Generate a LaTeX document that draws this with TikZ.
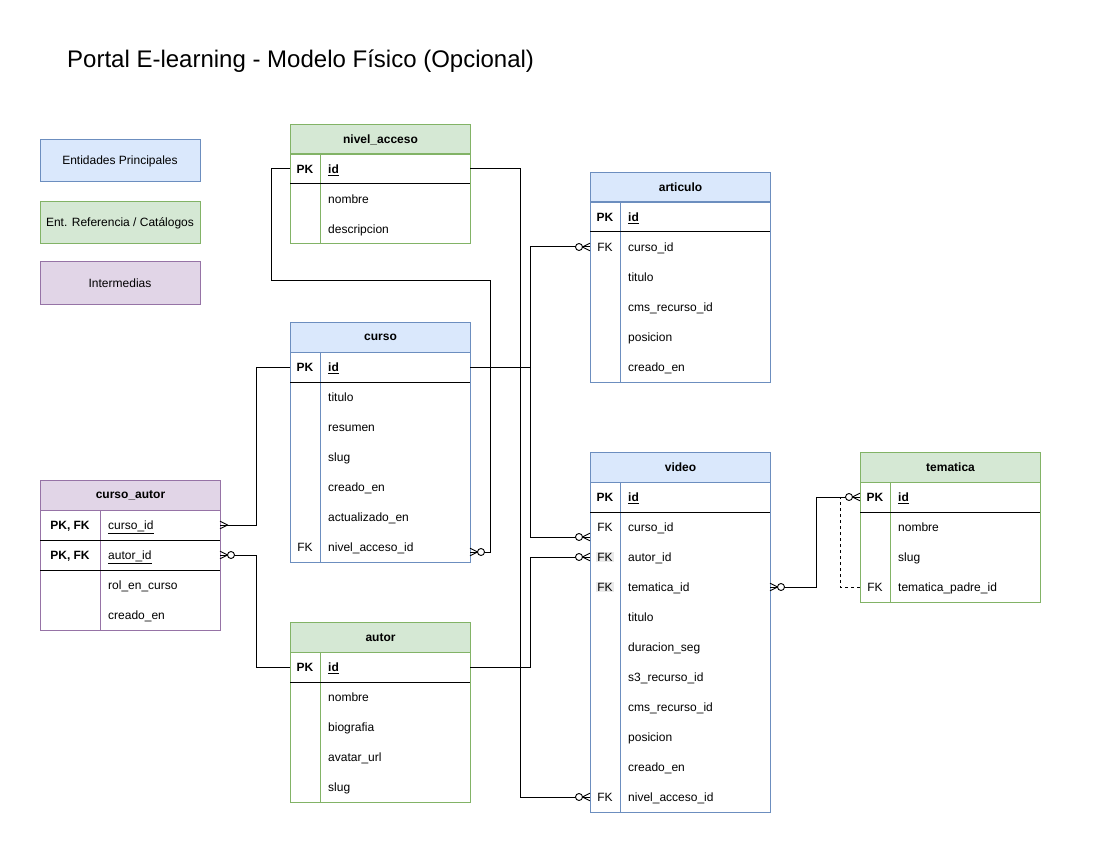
\documentclass[tikz,border=0pt]{standalone}
\usepackage{fontspec}
\setmainfont{Liberation Sans}
\definecolor{bfill}{HTML}{DAE8FC}
\definecolor{bdraw}{HTML}{6C8EBF}
\definecolor{gfill}{HTML}{D5E8D4}
\definecolor{gdraw}{HTML}{82B366}
\definecolor{pfill}{HTML}{E1D5E7}
\definecolor{pdraw}{HTML}{9673A6}
\definecolor{hlgray}{HTML}{EBEBEB}
\setlength\fboxsep{1pt}
\newcommand\fs{\fontsize{12}{14}\selectfont}
\newcommand\hlk[1]{\colorbox{hlgray}{#1}}
\tikzset{
  lw/.style={line width=1pt},
  conn/.style={line width=1pt, draw=black},
  hdr/.style={draw, line width=1pt, anchor=north west, minimum width=180, minimum height=30, inner sep=0, font=\bfseries\fs},
  legend/.style={draw, line width=1pt, minimum width=160, minimum height=42, inner sep=0, font=\fs},
  bluec/.style={fill=bfill, draw=bdraw},
  greenc/.style={fill=gfill, draw=gdraw},
  purplec/.style={fill=pfill, draw=pdraw},
  rowbox/.style={minimum width=180, minimum height=30, inner sep=0, outer sep=0, anchor=north west},
  keytxt/.style={anchor=base, inner sep=0, font=\fs},
  fldtxt/.style={anchor=base west, inner sep=0, font=\fs},
  zmany/.pic={\draw[line width=0.9pt] (0,-3.8) -- (7.5,0) -- (0,3.8);
              \draw[line width=0.9pt, fill=white] (11,0) circle[radius=3.5];},
  omany/.pic={\draw[line width=0.9pt] (0,-3.8) -- (7.5,0) -- (0,3.8);},
}
% name, x, ytop, keyw, key, field
\newcommand\erow[6]{%
  \node[rowbox] (#1) at (#2,#3) {};
  \node[keytxt] at ({#2+#4/2},{#3+19.3}) {#5};
  \node[fldtxt] at ({#2+#4+8},{#3+19.3}) {#6};
}
% x, ytop, nrows, keyw, colour
\newcommand\erbody[5]{%
  \draw[#5, line width=1pt] (#1,#2) rectangle ({#1+180},{#2+30*#3});
  \draw[#5, line width=1pt] ({#1+#4},#2) -- ({#1+#4},{#2+30*#3});
}
\newcommand\ersep[2]{\draw[line width=1pt] (#1,#2) -- ({#1+180},#2);}
\begin{document}
\begin{tikzpicture}[x=1pt,y=-1pt]
\useasboundingbox (0,0) rectangle (1100,850);
\fill[white] (0,0) rectangle (1100,850);

% title
\node[anchor=base west, inner sep=0, font=\fontsize{24}{28}\selectfont] (title) at (67,68) {Portal E-learning - Modelo Físico (Opcional)};

% legend
\node[legend, bluec] (lg1) at (120,161) {Entidades Principales};
\node[legend, greenc] (lg2) at (120,223) {Ent. Referencia / Catálogos};
\node[legend, purplec] (lg3) at (120,283) {Intermedias};

% nivel_acceso
\node[hdr, greenc] (na) at (290,124) {nivel\_acceso};
\erbody{290}{154}{3}{30}{gdraw}
\erow{na-id}{290}{154}{30}{\textbf{PK}}{\textbf{\underline{id}}}
\erow{na-nombre}{290}{184}{30}{}{nombre}
\erow{na-desc}{290}{214}{30}{}{descripcion}
\ersep{290}{184}

% articulo
\node[hdr, bluec] (ar) at (590,172) {articulo};
\erbody{590}{202}{6}{30}{bdraw}
\erow{ar-id}{590}{202}{30}{\textbf{PK}}{\textbf{\underline{id}}}
\erow{ar-curso}{590}{232}{30}{FK}{curso\_id}
\erow{ar-titulo}{590}{262}{30}{}{titulo}
\erow{ar-cms}{590}{292}{30}{}{cms\_recurso\_id}
\erow{ar-pos}{590}{322}{30}{}{posicion}
\erow{ar-creado}{590}{352}{30}{}{creado\_en}
\ersep{590}{232}

% curso
\node[hdr, bluec] (cu) at (290,322) {curso};
\erbody{290}{352}{7}{30}{bdraw}
\erow{cu-id}{290}{352}{30}{\textbf{PK}}{\textbf{\underline{id}}}
\erow{cu-titulo}{290}{382}{30}{}{titulo}
\erow{cu-resumen}{290}{412}{30}{}{resumen}
\erow{cu-slug}{290}{442}{30}{}{slug}
\erow{cu-creado}{290}{472}{30}{}{creado\_en}
\erow{cu-act}{290}{502}{30}{}{actualizado\_en}
\erow{cu-nivel}{290}{532}{30}{FK}{nivel\_acceso\_id}
\ersep{290}{382}

% curso_autor
\node[hdr, purplec] (ca) at (40,480) {curso\_autor};
\erbody{40}{510}{4}{60}{pdraw}
\erow{ca-curso}{40}{510}{60}{\textbf{PK, FK}}{\underline{curso\_id}}
\erow{ca-autor}{40}{540}{60}{\textbf{PK, FK}}{\underline{autor\_id}}
\erow{ca-rol}{40}{570}{60}{}{rol\_en\_curso}
\erow{ca-creado}{40}{600}{60}{}{creado\_en}
\ersep{40}{540}
\ersep{40}{570}

% autor
\node[hdr, greenc] (au) at (290,622) {autor};
\erbody{290}{652}{5}{30}{gdraw}
\erow{au-id}{290}{652}{30}{\textbf{PK}}{\textbf{\underline{id}}}
\erow{au-nombre}{290}{682}{30}{}{nombre}
\erow{au-bio}{290}{712}{30}{}{biografia}
\erow{au-avatar}{290}{742}{30}{}{avatar\_url}
\erow{au-slug}{290}{772}{30}{}{slug}
\ersep{290}{682}

% video
\node[hdr, bluec] (vi) at (590,452) {video};
\erbody{590}{482}{11}{30}{bdraw}
\erow{vi-id}{590}{482}{30}{\textbf{PK}}{\textbf{\underline{id}}}
\erow{vi-curso}{590}{512}{30}{FK}{curso\_id}
\erow{vi-autor}{590}{542}{30}{\hlk{FK}}{autor\_id}
\erow{vi-tem}{590}{572}{30}{\hlk{FK}}{tematica\_id}
\erow{vi-titulo}{590}{602}{30}{}{titulo}
\erow{vi-dur}{590}{632}{30}{}{duracion\_seg}
\erow{vi-s3}{590}{662}{30}{}{s3\_recurso\_id}
\erow{vi-cms}{590}{692}{30}{}{cms\_recurso\_id}
\erow{vi-pos}{590}{722}{30}{}{posicion}
\erow{vi-creado}{590}{752}{30}{}{creado\_en}
\erow{vi-nivel}{590}{782}{30}{FK}{nivel\_acceso\_id}
\ersep{590}{512}

% tematica
\node[hdr, greenc] (te) at (860,452) {tematica};
\erbody{860}{482}{4}{30}{gdraw}
\erow{te-id}{860}{482}{30}{\textbf{PK}}{\textbf{\underline{id}}}
\erow{te-nombre}{860}{512}{30}{}{nombre}
\erow{te-slug}{860}{542}{30}{}{slug}
\erow{te-padre}{860}{572}{30}{FK}{tematica\_padre\_id}
\ersep{860}{512}

% connectors
\draw[conn] (na-id.west) -- ++(-19,0) -- ++(0,112) -| ([xshift=20pt,yshift=-5pt]cu-nivel.east) -- ([yshift=-5pt]cu-nivel.east);
\draw[conn] (na-id.east) -- ++(50,0) |- (vi-nivel.west);
\draw[conn] (cu-id.east) -- ++(60,0) |- (ar-curso.west);
\draw[conn] (cu-id.east) -- ++(60,0) |- ([yshift=-10pt]vi-curso.west);
\draw[conn] (cu-id.west) -- ++(-34,0) |- (ca-curso.east);
\draw[conn] (au-id.west) -- ++(-34,0) |- (ca-autor.east);
\draw[conn] (au-id.east) -- ++(60,0) |- (vi-autor.west);
\draw[conn] (vi-tem.east) -- ++(46,0) |- (te-id.west);
\draw[conn, dash pattern=on 3.5pt off 2.5pt] (te-padre.west) -| ([xshift=-20pt]te-id.west);

% cardinality marks
\pic at ([yshift=-5pt]cu-nivel.east) {zmany};
\pic[xscale=-1] at (vi-nivel.west) {zmany};
\pic[xscale=-1] at (ar-curso.west) {zmany};
\pic[xscale=-1] at ([yshift=-10pt]vi-curso.west) {zmany};
\pic[xscale=-1] at (vi-autor.west) {zmany};
\pic at (ca-curso.east) {omany};
\pic at (ca-autor.east) {zmany};
\pic at (vi-tem.east) {zmany};
\pic[xscale=-1] at (te-id.west) {zmany};
\end{tikzpicture}
\end{document}
